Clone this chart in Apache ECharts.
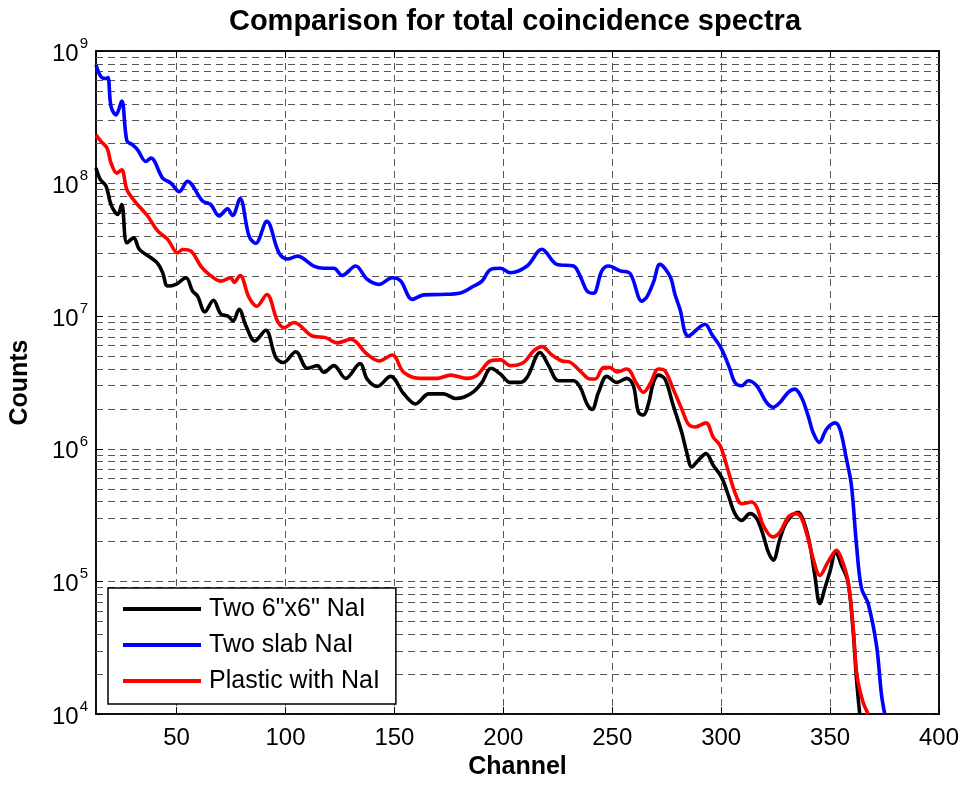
<!DOCTYPE html>
<html><head><meta charset="utf-8">
<script src="https://cdn.jsdelivr.net/npm/echarts@6/dist/echarts.min.js"></script>
<style>html,body{margin:0;padding:0;background:#fff}#c{width:966px;height:785px}</style>
</head><body><div id="c"></div>
<script>
const titleText = 'Comparison for total coincidence spectra';
const xName = 'Channel';
const yName = 'Counts';
const seriesNames = ['Two 6"x6" NaI', 'Two slab NaI', 'Plastic with NaI'];
const yTickExponents = [4, 5, 6, 7, 8, 9];

const blackCh = [13,15,17.6,19.9,23,24.8,27.2,30.3,32.9,38.2,41.3,43.6,45.9,49.7,54.3,57.3,59.6,63,66.9,70.3,73.7,75.9,78.7,81.8,85.9,90.9,95.5,99,104.7,110,114.6,117.6,122.2,127.6,134.2,137.5,142.1,148.2,154.3,159.7,165.8,172.6,178,181.8,186.4,190.2,194.4,198.6,203.2,207.8,210.9,216.9,220.8,225.4,232.2,235.3,238.4,240.7,243.7,247.5,252.1,256.7,259.7,262,264.3,266.6,268.9,271.2,274.2,278,281.9,284.2,286.5,289.5,293,296.4,300.2,303.3,306.3,309.4,313.2,316.3,319.3,321.6,323.9,327,330,335.3,337.7,340.7,343,345.3,347.6,349.9,352.6,355.2,358.2,360.6,362.1,363.6];
const blackVal = [1.31e8,1.07e8,9.6e7,6.95e7,5.85e7,6.95e7,3.58e7,3.9e7,3.19e7,2.76e7,2.5e7,2.13e7,1.69e7,1.74e7,1.95e7,1.55e7,1.42e7,1.08e7,1.32e7,1.04e7,1.0e7,9.2e6,1.13e7,8.5e6,6.5e6,7.85e6,4.9e6,4.48e6,5.4e6,4.05e6,4.24e6,3.78e6,4.24e6,3.4e6,4.4e6,3.36e6,2.96e6,3.52e6,2.6e6,2.18e6,2.6e6,2.6e6,2.4e6,2.45e6,2.7e6,3.17e6,4.05e6,3.67e6,3.17e6,3.17e6,3.46e6,5.33e6,4.24e6,3.26e6,3.26e6,2.91e6,2.18e6,1.98e6,2.67e6,3.52e6,3.17e6,3.4e6,2.99e6,1.89e6,1.8e6,2.18e6,3.17e6,3.6e6,3.36e6,2.12e6,1.33e6,9.4e5,7.3e5,8.2e5,9.2e5,7.5e5,6.1e5,4.46e5,3.25e5,2.89e5,3.25e5,2.98e5,2.23e5,1.67e5,1.45e5,2.1e5,2.8e5,3.33e5,2.9e5,1.9e5,1.11e5,6.8e4,8.9e4,1.18e5,1.67e5,1.33e5,9.96e4,4.2e4,1.87e4,1.0e4];

const blueCh = [13,15.3,17.6,18.5,19.9,22.2,24.8,27.2,29.8,32.1,35.9,38.2,43.6,47.4,51.2,55,61.9,65.7,69.5,73.4,75.7,79.1,83.3,86.3,91.4,97,100.9,105.5,113,117.6,122.2,126,132.2,137.5,142.9,149,152.8,158.2,163.5,171.1,180.3,186.4,190.2,194.1,198.7,203.2,210.9,217.7,224.6,232.2,235.3,238.4,241.4,245.2,248.3,253.6,258.2,263.6,265.9,268.9,271.9,276.5,278.8,281.1,284.9,292.6,295.7,300.2,304,306.3,309.4,312.4,316.3,320.8,323.9,327,330.8,333.8,336.9,339.9,342.2,345,348.4,352.2,354.5,357.5,359.8,362.1,364.4,367.5,371.3,373.6,375.1];
const blueVal = [7.85e8,6.4e8,6.2e8,6.3e8,3.8e8,3.3e8,4.2e8,2.1e8,1.96e8,1.8e8,1.47e8,1.56e8,1.1e8,1.01e8,8.7e7,1.04e8,7.4e7,6.95e7,5.7e7,6.45e7,5.75e7,7.7e7,4.0e7,3.54e7,5.2e7,3.0e7,2.7e7,2.84e7,2.39e7,2.3e7,2.3e7,2.03e7,2.39e7,1.9e7,1.74e7,1.95e7,1.85e7,1.34e7,1.45e7,1.46e7,1.5e7,1.69e7,1.84e7,2.25e7,2.3e7,2.13e7,2.39e7,3.2e7,2.46e7,2.39e7,2.0e7,1.55e7,1.49e7,2.2e7,2.39e7,2.2e7,2.1e7,1.3e7,1.4e7,1.8e7,2.46e7,2.0e7,1.46e7,1.13e7,7.1e6,8.7e6,7.3e6,5.65e6,4.0e6,3.17e6,2.99e6,3.26e6,2.99e6,2.24e6,2.06e6,2.24e6,2.67e6,2.82e6,2.44e6,1.78e6,1.33e6,1.12e6,1.41e6,1.57e6,1.41e6,8.4e5,5.3e5,1.9e5,8.9e4,6.8e4,3.3e4,1.4e4,1.0e4];

const redCh = [13,15.3,18.1,19.9,22.6,24.8,27.2,31.3,36.7,41.3,45.9,50.5,52.7,56.6,61.1,64.9,70.3,74.9,76.4,79.1,83.3,86.8,91.4,96.3,99.3,103.9,112.3,118.4,123.8,129.9,137.5,142.9,149,154.3,162,169.6,175.7,183.4,188,194,198.7,203.2,209.3,213.9,217.7,222.3,226.9,230.7,235.3,239.9,242.2,246,249,252.1,256.7,261.3,264.3,267.4,271.2,274.2,278,281.9,284.9,288,293,296.4,299.5,302.5,306.3,309.4,314,316.3,319.3,323.6,327,330.8,334.6,336.9,339.9,342.2,345.3,349.1,353,355.2,358.2,360.6,362.3,365,367.5];
const redVal = [2.33e8,2.08e8,1.85e8,1.43e8,1.2e8,1.27e8,9.0e7,7.2e7,5.7e7,4.4e7,3.8e7,3.0e7,3.19e7,3.1e7,2.39e7,2.07e7,1.84e7,1.95e7,1.8e7,2.03e7,1.38e7,1.19e7,1.46e7,9.2e6,8.2e6,8.97e6,7.1e6,6.9e6,6.3e6,6.7e6,5.17e6,4.6e6,5.1e6,3.78e6,3.4e6,3.4e6,3.6e6,3.4e6,3.6e6,4.6e6,4.69e6,4.24e6,4.48e6,5.48e6,5.9e6,5.1e6,4.6e6,4.5e6,3.86e6,3.36e6,3.36e6,4.1e6,4.1e6,3.8e6,4.0e6,3.08e6,2.67e6,3.1e6,4.0e6,3.88e6,2.82e6,2.0e6,1.54e6,1.46e6,1.57e6,1.22e6,1.06e6,7.5e5,4.7e5,3.86e5,3.97e5,3.64e5,2.65e5,2.17e5,2.36e5,3.06e5,3.25e5,3.0e5,2.1e5,1.49e5,1.11e5,1.41e5,1.72e5,1.49e5,1.02e5,4.5e4,1.98e4,1.25e4,1.0e4];

const FONT = '"Liberation Sans", Arial, sans-serif';
const GRID_COLOR = '#555';
const zip = (a, b) => a.map((v, i) => [v, b[i]]);

const minorVals = [];
for (let e = yTickExponents[0]; e < yTickExponents[yTickExponents.length - 1]; e++) {
  for (let m = 2; m <= 9; m++) minorVals.push(m * Math.pow(10, e));
}

const chart = echarts.init(document.getElementById('c'), null, {renderer: 'canvas'});
const lineSeries = (name, ch, val, color, extra) => Object.assign({
  name, type: 'line', data: zip(ch, val), symbol: 'none', smooth: 0.35,
  lineStyle: {color, width: 3.6}, itemStyle: {color}, z: 5, silent: true
}, extra || {});

const axisLineStyle = {show: true, lineStyle: {color: '#000', width: 1.5}};
const option = {
  animation: false,
  backgroundColor: '#fff',
  title: {
    text: titleText, left: 510, top: 2, textAlign: 'center',
    textStyle: {fontFamily: FONT, fontWeight: 'bold', fontSize: 29, color: '#000'}
  },
  grid: {left: 95, right: 27, top: 51, bottom: 69, show: true, borderColor: '#000', borderWidth: 1.5, backgroundColor: 'transparent'},
  legend: {
    orient: 'vertical', left: 108, top: 588,
    data: seriesNames,
    icon: 'rect', itemWidth: 78, itemHeight: 4, itemGap: 8,
    padding: [7, 16, 9, 15],
    backgroundColor: '#fff', borderColor: '#000', borderWidth: 1.5,
    textStyle: {fontFamily: FONT, fontSize: 25, color: '#000', lineHeight: 28, padding: [0, 0, 0, 3]},
    selectedMode: false
  },
  xAxis: [{
    type: 'value', min: 13, max: 400, splitNumber: 8,
    name: xName, nameLocation: 'middle', nameGap: 40,
    nameTextStyle: {fontFamily: FONT, fontWeight: 'bold', fontSize: 25, color: '#000'},
    axisLine: axisLineStyle,
    axisTick: {show: true, inside: true, length: 7, lineStyle: {color: '#000', width: 1}},
    axisLabel: {fontFamily: FONT, fontSize: 24, color: '#000', margin: 12, showMinLabel: false, showMaxLabel: true},
    splitLine: {show: true, lineStyle: {color: GRID_COLOR, type: [7, 5], width: 1}}
  }, {
    type: 'value', min: 13, max: 400, splitNumber: 8, position: 'top',
    axisLine: axisLineStyle,
    axisTick: {show: true, inside: true, length: 7, lineStyle: {color: '#000', width: 1}},
    axisLabel: {show: false}, splitLine: {show: false}
  }],
  yAxis: [{
    type: 'log', logBase: 10, min: 1e4, max: 1e9, splitNumber: 5,
    name: yName, nameLocation: 'middle', nameGap: 63,
    nameTextStyle: {fontFamily: FONT, fontWeight: 'bold', fontSize: 25, color: '#000'},
    axisLine: axisLineStyle,
    axisTick: {show: true, inside: true, length: 7, lineStyle: {color: '#000', width: 1}},
    axisLabel: {
      margin: 8,
      formatter: v => '{b|10}{s|' + Math.round(Math.log10(v)) + '}',
      rich: {
        b: {fontFamily: FONT, fontSize: 24, color: '#000', lineHeight: 30, verticalAlign: 'bottom', padding: [10, 0, 0, 0]},
        s: {fontFamily: FONT, fontSize: 15, color: '#000', lineHeight: 15, verticalAlign: 'top', padding: [0, 0, 0, 1]}
      }
    },
    splitLine: {show: true, lineStyle: {color: GRID_COLOR, type: [7, 5], width: 1}}
  }, {
    type: 'log', logBase: 10, min: 1e4, max: 1e9, splitNumber: 5, position: 'right',
    axisLine: axisLineStyle,
    axisTick: {show: true, inside: true, length: 7, lineStyle: {color: '#000', width: 1}},
    axisLabel: {show: false}, splitLine: {show: false}
  }],
  series: [
    lineSeries(seriesNames[0], blackCh, blackVal, '#000000', {
      markLine: {
        silent: true, symbol: 'none', animation: false, z: 1,
        label: {show: false},
        lineStyle: {color: GRID_COLOR, type: [7, 5], width: 1},
        data: minorVals.map(v => ({yAxis: v}))
      }
    }),
    lineSeries(seriesNames[1], blueCh, blueVal, '#0000ff'),
    lineSeries(seriesNames[2], redCh, redVal, '#ff0000')
  ]
};
chart.setOption(option);
</script>
</body></html>
